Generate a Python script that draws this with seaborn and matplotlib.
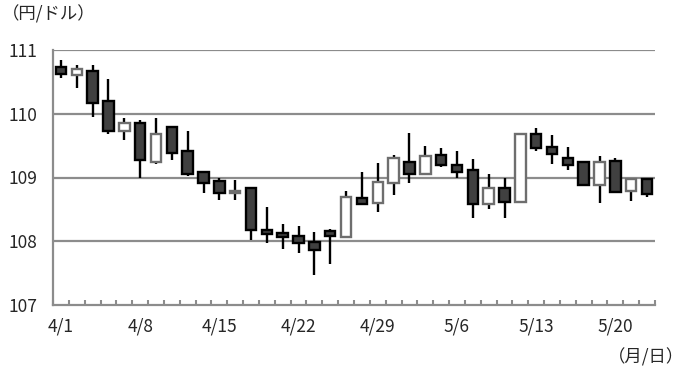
import numpy as np
import pandas as pd
import matplotlib
matplotlib.use("Agg")
import matplotlib.pyplot as plt
import seaborn as sns

# ---- data (USD/JPY daily candles) ----
dates = ["4/1", "4/2", "4/3", "4/4", "4/5",
         "4/8", "4/9", "4/10", "4/11", "4/12",
         "4/15", "4/16", "4/17", "4/18", "4/19",
         "4/22", "4/23", "4/24", "4/25", "4/26",
         "4/29", "4/30", "5/1", "5/2", "5/3",
         "5/6", "5/7", "5/8", "5/9", "5/10",
         "5/13", "5/14", "5/15", "5/16", "5/17",
         "5/20", "5/21", "5/22"]
opens = [110.73, 110.61, 110.67, 110.20, 109.73,
         109.86, 109.25, 109.79, 109.42, 109.09,
         108.95, 108.76, 108.83, 108.17, 108.13,
         108.08, 107.99, 108.16, 108.07, 108.68,
         108.60, 108.92, 109.24, 109.05, 109.35,
         109.20, 109.11, 108.58, 108.83, 108.62,
         109.68, 109.48, 109.31, 109.25, 108.88,
         109.26, 108.79, 108.97]
highs = [110.85, 110.76, 110.76, 110.54, 109.93,
         109.90, 109.94, 109.79, 109.73, 109.09,
         108.99, 108.96, 108.83, 108.54, 108.27,
         108.24, 108.15, 108.20, 108.79, 109.09,
         109.22, 109.36, 109.70, 109.49, 109.46,
         109.42, 109.29, 109.05, 108.99, 109.70,
         109.77, 109.67, 109.48, 109.25, 109.33,
         109.30, 108.98, 108.97]
lows = [110.56, 110.40, 109.95, 109.68, 109.59,
        109.00, 109.21, 109.27, 109.03, 108.76,
        108.64, 108.64, 108.02, 107.98, 107.88,
        107.81, 107.47, 107.64, 108.07, 108.58,
        108.46, 108.73, 108.91, 109.04, 109.17,
        109.00, 108.36, 108.50, 108.36, 108.61,
        109.42, 109.21, 109.11, 108.87, 108.60,
        108.77, 108.63, 108.69]
closes = [110.62, 110.70, 110.17, 109.73, 109.85,
          109.27, 109.68, 109.38, 109.05, 108.92,
          108.75, 108.79, 108.18, 108.11, 108.07,
          107.97, 107.87, 108.08, 108.70, 108.59,
          108.93, 109.31, 109.06, 109.34, 109.20,
          109.09, 108.58, 108.83, 108.62, 109.68,
          109.46, 109.37, 109.19, 108.88, 109.25,
          108.78, 108.97, 108.74]
label_dates = ["4/1", "4/8", "4/15", "4/22", "4/29", "5/6", "5/13", "5/20"]
y_ticks = [107, 108, 109, 110, 111]

df = pd.DataFrame({"date": dates, "open": opens, "high": highs,
                   "low": lows, "close": closes})
df["x"] = np.arange(len(df))
df["bottom"] = df[["open", "close"]].min(axis=1)
df["height"] = (df["open"] - df["close"]).abs().clip(lower=0.02)
df["up"] = df["close"] >= df["open"]

sns.set_theme(style="white")
plt.rcParams["font.family"] = ["Noto Sans CJK JP", "DejaVu Sans"]

fig = plt.figure(figsize=(6.85, 3.76), dpi=100)
ax = fig.add_axes([53 / 685, 1 - 305 / 376, 602 / 685, 255 / 376])

GRID = "#8c8c8c"
FS = 12.5
# grid lines
for v in y_ticks[1:]:
    ax.axhline(v, color=GRID, lw=1.6, zorder=1)

# wicks
ax.vlines(df["x"], df["low"], df["high"], color="black", lw=1.7, zorder=2)

# bodies
up = df[df["up"]]
dn = df[~df["up"]]
ax.bar(dn["x"], dn["height"], bottom=dn["bottom"], width=0.66,
       color="#404040", edgecolor="black", linewidth=1.7, zorder=3)
ax.bar(up["x"], up["height"], bottom=up["bottom"], width=0.66,
       color="white", edgecolor="#6e6e6e", linewidth=1.7, zorder=3)

ax.set_xlim(-0.5, len(df) - 0.5)
ax.set_ylim(107, 111)

ax.set_yticks(y_ticks)
ax.set_yticklabels([str(v) for v in y_ticks], fontsize=FS)
lab_pos = [dates.index(d) for d in label_dates]
ax.set_xticks(lab_pos)
ax.set_xticklabels(label_dates, fontsize=FS)
ax.set_xticks(np.arange(-0.5, len(df), 1.0), minor=True)
ax.tick_params(axis="y", length=0, pad=11)
ax.tick_params(axis="x", which="major", length=0, pad=9)
ax.tick_params(axis="x", which="minor", direction="in", length=3.5,
               width=1.5, color=GRID, bottom=True)

for s in ["top", "right"]:
    ax.spines[s].set_visible(False)
for s in ["left", "bottom"]:
    ax.spines[s].set_visible(True)
    ax.spines[s].set_color(GRID)
    ax.spines[s].set_linewidth(1.6)

fig.text(2 / 685, 1 - 14 / 376, "（円/ドル）", fontsize=FS, va="center", ha="left")
fig.text(684 / 685, 1 - 357 / 376, "（月/日）", fontsize=FS, va="center", ha="right")

fig.savefig("out.png", dpi=100)
